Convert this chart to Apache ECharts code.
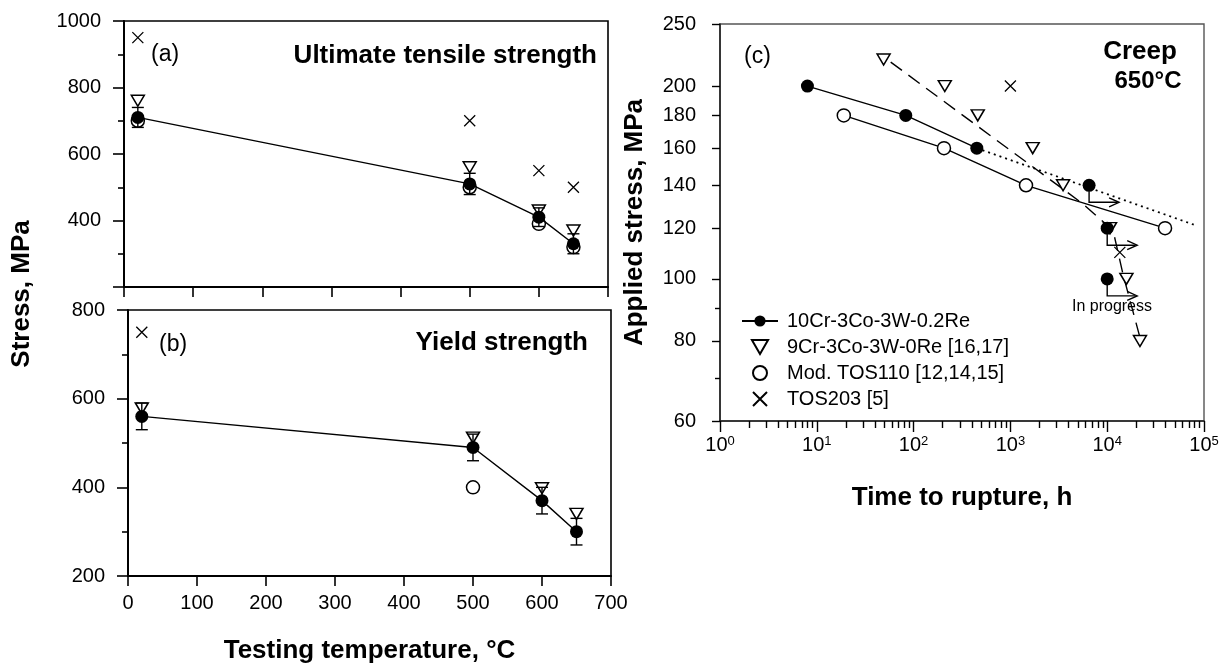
<!DOCTYPE html>
<html><head><meta charset="utf-8">
<script src="https://cdn.jsdelivr.net/npm/echarts@6/dist/echarts.min.js"></script>
<style>html,body{margin:0;padding:0;background:#fff}#c{width:1226px;height:671px}</style>
</head><body><div id="c"></div>
<script>
const FONT = '"Liberation Sans", Arial, Helvetica, sans-serif';

// ---------- Panels (a) and (b): tensile data ----------
const tempC = [20, 500, 600, 650];
const utsRe = [710, 510, 410, 330];
const utsReErr = [30, 32, 28, 30];
const uts9Cr = [760, 560, 430, 370];
const utsTOS110 = [700, 500, 390, 320];
const utsTOS203 = [950, 700, 550, 500];

const ysRe = [560, 490, 370, 300];
const ysReErr = [30, 30, 30, 30];
const ys9Cr = [578, 512, 398, 340];
const ysTOS110Temp = [500];
const ysTOS110 = [400];
const ysTOS203Temp = [20];
const ysTOS203 = [750];

// ---------- Panel (c): creep rupture at 650 C ----------
const crReT = [8, 83, 450, 6500, 10000, 10000];
const crReS = [200, 180, 160, 140, 120, 100];
const crReRunning = [0, 0, 0, 1, 1, 1];
const cr9CrT = [49, 210, 460, 1700, 3500, 10700, 15800, 21800];
const cr9CrS = [220, 200, 180, 160, 140, 120, 100, 80];
const crTOS110T = [19, 206, 1450, 39600];
const crTOS110S = [180, 160, 140, 120];
const crTOS203T = [1000, 13500];
const crTOS203S = [200, 110];
const fit9CrT = [58, 5600, 11500, 14600, 21800];
const fit9CrS = [218, 131, 119, 101.5, 81];
const extReT = [450, 85000];
const extReS = [160, 121];

// tick labels
const creepYTicks = [60, 80, 100, 120, 140, 160, 180, 200, 250];
const creepYMinor = [70, 90];
const creepXMinor = [2,3,4,5,6,7,8,9,20,30,40,50,60,70,80,90,200,300,400,500,600,700,800,900,
  2000,3000,4000,5000,6000,7000,8000,9000,20000,30000,40000,50000,60000,70000,80000,90000];

const N_RE = '10Cr-3Co-3W-0.2Re';
const N_9CR = '9Cr-3Co-3W-0Re [16,17]';
const N_110 = 'Mod. TOS110 [12,14,15]';
const N_203 = 'TOS203 [5]';

const TRI = 'path://M0,0L12,0L6,10.4Z';
const CROSS = 'path://M0,0L10,10M10,0L0,10';

const sFilled = {symbol: 'circle', symbolSize: 13, itemStyle: {color: '#000', opacity: 1}};
const sOpen = {symbol: 'circle', symbolSize: 13, itemStyle: {color: '#fff', borderColor: '#000', borderWidth: 1.5, opacity: 1}};
const sTri = {symbol: TRI, symbolSize: [13, 11], itemStyle: {color: '#fff', borderColor: '#000', borderWidth: 1.5, opacity: 1}};
const sCross = {symbol: CROSS, symbolSize: 11, itemStyle: {color: 'none', borderColor: '#000', borderWidth: 1.3, opacity: 1}};

function pairs(xs, ys) { return xs.map((x, i) => [x, ys[i]]); }

function renderErr(params, api) {
  const x = api.value(0), lo = api.value(1), hi = api.value(2);
  const a = api.coord([x, lo]), b = api.coord([x, hi]);
  const w = 6, st = {stroke: '#000', lineWidth: 1.4};
  return {type: 'group', children: [
    {type: 'line', shape: {x1: a[0], y1: a[1], x2: b[0], y2: b[1]}, style: st},
    {type: 'line', shape: {x1: a[0] - w, y1: a[1], x2: a[0] + w, y2: a[1]}, style: st},
    {type: 'line', shape: {x1: b[0] - w, y1: b[1], x2: b[0] + w, y2: b[1]}, style: st}
  ]};
}
function renderArrow(params, api) {
  const p = api.coord([api.value(0), api.value(1)]);
  const x0 = p[0], y0 = p[1] + 6, y1 = p[1] + 17, x1 = p[0] + 30;
  return {type: 'group', children: [
    {type: 'polyline', shape: {points: [[x0, y0], [x0, y1], [x1 - 2, y1]]}, style: {stroke: '#000', lineWidth: 1.4, fill: null}},
    {type: 'polyline', shape: {points: [[x1 - 10, y1 - 4.5], [x1, y1], [x1 - 10, y1 + 4.5]]}, style: {stroke: '#000', lineWidth: 1.4, fill: null}}
  ]};
}

const axLine = {lineStyle: {color: '#000', width: 2}};
const labelStyle = {fontSize: 20, color: '#000', fontFamily: FONT};

function tempAxis(grid, showLabel) {
  return {type: 'value', gridIndex: grid, min: 0, max: 700, interval: 100,
    axisLine: axLine, axisTick: {length: 10, lineStyle: {color: '#000', width: 1.6}},
    axisLabel: Object.assign({show: showLabel, margin: 17}, labelStyle),
    splitLine: {show: false}};
}
function stressAxis(grid, max) {
  return {type: 'value', gridIndex: grid, min: 200, max: max, interval: 200,
    axisLine: axLine, axisTick: {length: 11, lineStyle: {color: '#000', width: 1.6}},
    minorTick: {show: true, splitNumber: 2, length: 6, lineStyle: {color: '#000', width: 1.6}},
    axisLabel: Object.assign({margin: 23, formatter: v => (grid === 0 && v === 200) ? '' : String(v)}, labelStyle),
    splitLine: {show: false}, minorSplitLine: {show: false}};
}

const series = [];
// ---- Panel (a)
series.push({type: 'custom', name: 'err-a', xAxisIndex: 0, yAxisIndex: 0, renderItem: renderErr, encode: {x: 0, y: [1, 2]},
  data: tempC.map((t, i) => [t, utsRe[i] - utsReErr[i], utsRe[i] + utsReErr[i]]), z: 3});
series.push(Object.assign({type: 'scatter', name: N_110, xAxisIndex: 0, yAxisIndex: 0, data: pairs(tempC, utsTOS110), z: 2}, sOpen));
series.push(Object.assign({type: 'scatter', name: N_9CR, xAxisIndex: 0, yAxisIndex: 0, data: pairs(tempC, uts9Cr), z: 2}, sTri));
series.push(Object.assign({type: 'scatter', name: N_203, xAxisIndex: 0, yAxisIndex: 0, data: pairs(tempC, utsTOS203), z: 2}, sCross));
series.push(Object.assign({type: 'line', name: N_RE, xAxisIndex: 0, yAxisIndex: 0, data: pairs(tempC, utsRe), showSymbol: true,
  lineStyle: {color: '#000', width: 1.4}, z: 4}, sFilled));
// ---- Panel (b)
series.push({type: 'custom', name: 'err-b', xAxisIndex: 1, yAxisIndex: 1, renderItem: renderErr, encode: {x: 0, y: [1, 2]},
  data: tempC.map((t, i) => [t, ysRe[i] - ysReErr[i], ysRe[i] + ysReErr[i]]), z: 3});
series.push(Object.assign({type: 'scatter', name: N_110, xAxisIndex: 1, yAxisIndex: 1, data: pairs(ysTOS110Temp, ysTOS110), z: 2}, sOpen));
series.push(Object.assign({type: 'scatter', name: N_9CR, xAxisIndex: 1, yAxisIndex: 1, data: pairs(tempC, ys9Cr), z: 2}, sTri));
series.push(Object.assign({type: 'scatter', name: N_203, xAxisIndex: 1, yAxisIndex: 1, data: pairs(ysTOS203Temp, ysTOS203), z: 2}, sCross));
series.push(Object.assign({type: 'line', name: N_RE, xAxisIndex: 1, yAxisIndex: 1, data: pairs(tempC, ysRe), showSymbol: true,
  lineStyle: {color: '#000', width: 1.4}, z: 4}, sFilled));
// ---- Panel (c)
series.push({type: 'line', name: 'ext', xAxisIndex: 2, yAxisIndex: 2, data: pairs(extReT, extReS), symbol: 'none',
  lineStyle: {color: '#000', width: 1.8, type: [2, 4]}, z: 1});
series.push({type: 'line', name: 'fit9', xAxisIndex: 2, yAxisIndex: 2, data: pairs(fit9CrT, fit9CrS), symbol: 'none',
  lineStyle: {color: '#000', width: 1.4, type: [14, 8]}, z: 1});
series.push({type: 'line', name: 'fit110', xAxisIndex: 2, yAxisIndex: 2, data: pairs(crTOS110T, crTOS110S), symbol: 'none',
  lineStyle: {color: '#000', width: 1.4}, z: 1});
series.push({type: 'line', name: 'fitRe', xAxisIndex: 2, yAxisIndex: 2,
  data: pairs(crReT, crReS).filter((p, i) => !crReRunning[i]), symbol: 'none',
  lineStyle: {color: '#000', width: 1.4}, z: 1});
series.push(Object.assign({type: 'scatter', name: N_9CR, xAxisIndex: 2, yAxisIndex: 2, data: pairs(cr9CrT, cr9CrS), z: 2}, sTri));
series.push(Object.assign({type: 'scatter', name: N_110, xAxisIndex: 2, yAxisIndex: 2, data: pairs(crTOS110T, crTOS110S), z: 2}, sOpen));
series.push(Object.assign({type: 'scatter', name: N_203, xAxisIndex: 2, yAxisIndex: 2, data: pairs(crTOS203T, crTOS203S), z: 2}, sCross));
series.push(Object.assign({type: 'scatter', name: N_RE, xAxisIndex: 2, yAxisIndex: 2, data: pairs(crReT, crReS), z: 3}, sFilled));
series.push({type: 'custom', name: 'running', xAxisIndex: 2, yAxisIndex: 2, renderItem: renderArrow, encode: {x: 0, y: 1},
  data: pairs(crReT, crReS).filter((p, i) => crReRunning[i]), z: 4});

const txt = (t, x, y, font, align, rot) => ({type: 'text', x: x, y: y, rotation: rot || 0, z: 10,
  style: {text: t, font: font, fill: '#000', align: align || 'left', verticalAlign: 'middle'}});

const option = {
  animation: false,
  backgroundColor: '#fff',
  textStyle: {fontFamily: FONT},
  grid: [
    {left: 124, top: 21, width: 484, height: 266, show: true, borderColor: '#000', borderWidth: 1.6, outerBoundsMode: 'none'},
    {left: 128, top: 310, width: 483, height: 266, show: true, borderColor: '#000', borderWidth: 1.6, outerBoundsMode: 'none'},
    {left: 720, top: 24, width: 484, height: 397, show: true, borderColor: '#555', borderWidth: 1.4, outerBoundsMode: 'none'}
  ],
  xAxis: [
    tempAxis(0, false),
    Object.assign(tempAxis(1, true), {name: 'Testing temperature, °C', nameLocation: 'middle', nameGap: 62,
      nameTextStyle: {fontSize: 26, fontWeight: 'bold', color: '#000', fontFamily: FONT}}),
    {type: 'log', logBase: 10, gridIndex: 2, min: 1, max: 100000, position: 'bottom',
      axisLine: {lineStyle: {color: '#222', width: 1.6}}, axisTick: {length: 11, lineStyle: {color: '#000', width: 1.4}},
      axisLabel: {margin: 14, color: '#000', formatter: v => '{b|10}{s|' + Math.round(Math.log10(v)) + '}',
        rich: {b: {fontSize: 20, fontFamily: FONT, color: '#000'}, s: {fontSize: 13, fontFamily: FONT, color: '#000', verticalAlign: 'top'}}},
      splitLine: {show: false},
      name: 'Time to rupture, h', nameLocation: 'middle', nameGap: 64,
      nameTextStyle: {fontSize: 26, fontWeight: 'bold', color: '#000', fontFamily: FONT}},
    {type: 'log', logBase: 10, gridIndex: 2, min: 1, max: 100000, position: 'bottom', offset: 0, axisLine: {show: false},
      axisTick: {length: 7, customValues: creepXMinor, lineStyle: {color: '#000', width: 1.4}},
      axisLabel: {show: false}, splitLine: {show: false}}
  ],
  yAxis: [
    stressAxis(0, 1000),
    stressAxis(1, 800),
    {type: 'log', logBase: 10, gridIndex: 2, min: 60, max: 250, position: 'left',
      axisLine: {lineStyle: {color: '#222', width: 1.6}},
      axisTick: {length: 8, customValues: creepYTicks, lineStyle: {color: '#000', width: 1.4}},
      axisLabel: Object.assign({margin: 24, customValues: creepYTicks}, labelStyle),
      splitLine: {show: false},
      name: 'Applied stress, MPa', nameLocation: 'middle', nameGap: 72,
      nameTextStyle: {fontSize: 26, fontWeight: 'bold', color: '#000', fontFamily: FONT}},
    {type: 'log', logBase: 10, gridIndex: 2, min: 60, max: 250, position: 'left', offset: 0, axisLine: {show: false},
      axisTick: {length: 5, customValues: creepYMinor, lineStyle: {color: '#000', width: 1.4}},
      axisLabel: {show: false}, splitLine: {show: false}}
  ],
  legend: {
    data: [N_RE, N_9CR, N_110, N_203],
    orient: 'vertical', left: 736, top: 306, itemWidth: 36, itemHeight: 14, itemGap: 6,
    selectedMode: false,
    textStyle: {fontSize: 20, color: '#000', fontFamily: FONT, padding: [0, 0, 0, 4]}
  },
  graphic: [
    txt('Stress, MPa', 22, 294, 'bold 26px ' + FONT, 'center', Math.PI / 2),
    txt('(a)', 151, 55, '23px ' + FONT, 'left'),
    txt('Ultimate tensile strength', 597, 56, 'bold 26px ' + FONT, 'right'),
    txt('(b)', 159, 345, '23px ' + FONT, 'left'),
    txt('Yield strength', 588, 343, 'bold 26px ' + FONT, 'right'),
    txt('(c)', 744, 57, '23px ' + FONT, 'left'),
    txt('Creep', 1140, 52, 'bold 26px ' + FONT, 'center'),
    txt('650°C', 1148, 81, 'bold 24px ' + FONT, 'center'),
    txt('In progress', 1112, 307, '16px ' + FONT, 'center')
  ],
  series: series
};

const chart = echarts.init(document.getElementById('c'), null, {renderer: 'canvas'});
chart.setOption(option);
</script>
</body></html>
